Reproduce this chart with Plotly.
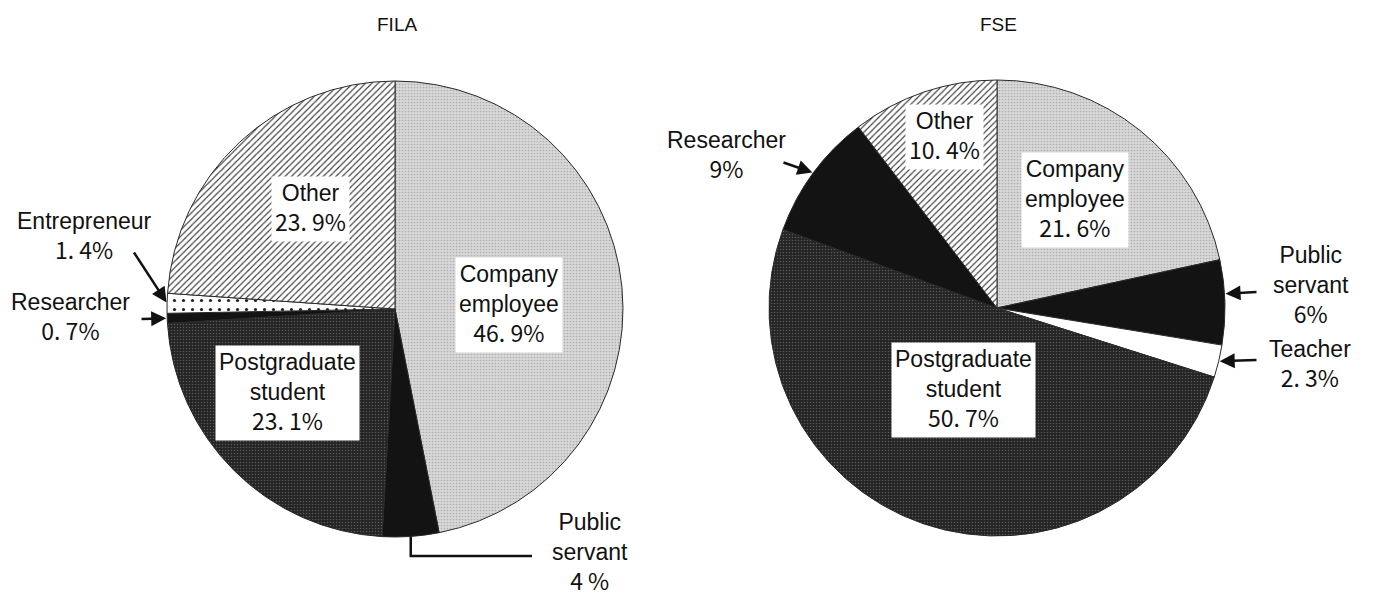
import math
import plotly.graph_objects as go

PAGE_W, PAGE_H = 1373, 596
OFF = 8  # default body margin of the html page
W, H = PAGE_W - 2 * OFF, PAGE_H - OFF

# ---------------- data ----------------
fila_labels = ["Company employee", "Public servant", "Postgraduate student",
               "Researcher", "Entrepreneur", "Other"]
fila_values = [46.9, 4.0, 23.1, 0.7, 1.4, 23.9]
fila_pct_text = ["46. 9%", "4 %", "23. 1%", "0. 7%", "1. 4%", "23. 9%"]

fse_labels = ["Company employee", "Public servant", "Teacher",
              "Postgraduate student", "Researcher", "Other"]
fse_values = [21.6, 6.0, 2.3, 50.7, 9.0, 10.4]
fse_pct_text = ["21. 6%", "6%", "2. 3%", "50. 7%", "9%", "10. 4%"]

# ---------------- styles ----------------
STYLE = {
    "Company employee":     dict(bg="#d8d8d8", fg="#b0b0b0", shape=".", size=3, sol=0.25),
    "Public servant":       dict(bg="#131313", fg="#131313", shape="", size=8, sol=0.3),
    "Postgraduate student": dict(bg="#242424", fg="#5a5a5a", shape=".", size=3, sol=0.2),
    "Researcher":           dict(bg="#131313", fg="#131313", shape="", size=8, sol=0.3),
    "Entrepreneur":         dict(bg="#ffffff", fg="#222222", shape=".", size=9, sol=0.1),
    "Other":                dict(bg="#ffffff", fg="#333333", shape="/", size=4.5, sol=0.25),
    "Teacher":              dict(bg="#ffffff", fg="#ffffff", shape="", size=8, sol=0.3),
}

LABEL_FONT = "Liberation Sans, Arial, sans-serif"
NUM_FONT = "Noto Sans CJK JP, sans-serif"
FS = 23

# pie geometry (page pixels)
PIES = {
    "FILA": dict(cx=395, cy=309, r=228),
    "FSE": dict(cx=997, cy=308, r=228),
}


def px(x, y):
    return (x - OFF) / W, 1 - (y - OFF) / H


def domain(p):
    x0, y1 = px(p["cx"] - p["r"], p["cy"] - p["r"])
    x1, y0 = px(p["cx"] + p["r"], p["cy"] + p["r"])
    return dict(x=[x0, x1], y=[y0, y1])


def slice_point(p, values, idx, t=0.5, rfrac=1.0):
    tot = sum(values)
    start = sum(values[:idx]) / tot
    frac = start + t * values[idx] / tot
    ang = math.radians(360 * frac)
    return (p["cx"] + rfrac * p["r"] * math.sin(ang),
            p["cy"] - rfrac * p["r"] * math.cos(ang))


def polar_point(p, deg, rfrac):
    a = math.radians(deg)
    return (p["cx"] + rfrac * p["r"] * math.sin(a),
            p["cy"] - rfrac * p["r"] * math.cos(a))


def num(s):
    return f"<span style='font-family:{NUM_FONT}'>{s}</span>"


fig = go.Figure()


def add_pie(name, labels, values):
    p = PIES[name]
    st = [STYLE[l] for l in labels]
    fig.add_trace(go.Pie(
        labels=labels, values=values, sort=False, direction="clockwise",
        rotation=0, textinfo="none", hoverinfo="label+percent",
        domain=domain(p), showlegend=False, name=name,
        marker=dict(
            colors=[s["bg"] for s in st],
            line=dict(color="#2a2a2a", width=1),
            pattern=dict(
                shape=[s["shape"] for s in st],
                bgcolor=[s["bg"] for s in st],
                fgcolor=[s["fg"] for s in st],
                size=[s["size"] for s in st],
                solidity=[s["sol"] for s in st],
            ),
        ),
    ))
    tx, ty = px(p["cx"] + 2, 25)
    fig.add_annotation(x=tx, y=ty, xref="paper", yref="paper", text=name,
                       xanchor="center", yanchor="middle",
                       showarrow=False, font=dict(family=LABEL_FONT, size=19, color="#111"))


add_pie("FILA", fila_labels, fila_values)
add_pie("FSE", fse_labels, fse_values)


def inside_label(pie, labels, pcts, name, deg, rfrac):
    p = PIES[pie]
    i = labels.index(name)
    x, y = polar_point(p, deg, rfrac)
    txt = "<br>".join(name.split(" ")) + "<br>" + num(pcts[i])
    xp, yp = px(x, y)
    fig.add_annotation(x=xp, y=yp, xref="paper", yref="paper", text=txt,
                       xanchor="center", yanchor="middle",
                       showarrow=False, bgcolor="white", borderpad=3,
                       font=dict(family=LABEL_FONT, size=FS, color="#111"))


def outside_label(labels, pcts, name, x, y, split=False):
    i = labels.index(name)
    nm = "<br>".join(name.split(" ")) if split else name
    txt = f"{nm}<br>{num(pcts[i])}"
    xp, yp = px(x, y)
    fig.add_annotation(x=xp, y=yp, xref="paper", yref="paper", text=txt,
                       xanchor="center", yanchor="middle",
                       showarrow=False, font=dict(family=LABEL_FONT, size=FS, color="#111"))


def arrow(pie, values, idx, tail, t=0.5):
    p = PIES[pie]
    tx, ty = slice_point(p, values, idx, t=t)
    xp, yp = px(tx, ty)
    fig.add_annotation(x=xp, y=yp, xref="paper", yref="paper", text="",
                       showarrow=True, arrowhead=2, arrowsize=1.2, arrowwidth=2.5,
                       arrowcolor="#111", standoff=1,
                       ax=tail[0] - tx, ay=tail[1] - ty)


# FILA inside labels
inside_label("FILA", fila_labels, fila_pct_text, "Company employee", 88, 0.50)
inside_label("FILA", fila_labels, fila_pct_text, "Other", 320, 0.575)
inside_label("FILA", fila_labels, fila_pct_text, "Postgraduate student", 232, 0.60)
# FILA outside labels
outside_label(fila_labels, fila_pct_text, "Entrepreneur", 84, 237)
arrow("FILA", fila_values, fila_labels.index("Entrepreneur"), (133, 251))
outside_label(fila_labels, fila_pct_text, "Researcher", 70, 318)
arrow("FILA", fila_values, fila_labels.index("Researcher"), (140, 319))
outside_label(fila_labels, fila_pct_text, "Public servant", 590, 553, split=True)
# leader line for FILA public servant
lx, ly = slice_point(PIES["FILA"], fila_values, fila_labels.index("Public servant"))
p0 = px(lx, ly)
p1 = px(lx, 556)
p2 = px(532, 556)
fig.add_shape(type="path", xref="paper", yref="paper",
              path=f"M {p0[0]},{p0[1]} L {p1[0]},{p1[1]} L {p2[0]},{p2[1]}",
              line=dict(color="#111", width=2.5))

# FSE inside labels
inside_label("FSE", fse_labels, fse_pct_text, "Other", 343, 0.785)
inside_label("FSE", fse_labels, fse_pct_text, "Company employee", 35.8, 0.585)
inside_label("FSE", fse_labels, fse_pct_text, "Postgraduate student", 202, 0.388)
# FSE outside labels
outside_label(fse_labels, fse_pct_text, "Researcher", 726, 156)
arrow("FSE", fse_values, fse_labels.index("Researcher"), (782, 162))
outside_label(fse_labels, fse_pct_text, "Public servant", 1311, 286, split=True)
arrow("FSE", fse_values, fse_labels.index("Public servant"), (1258, 292), t=0.4)
outside_label(fse_labels, fse_pct_text, "Teacher", 1310, 365)
arrow("FSE", fse_values, fse_labels.index("Teacher"), (1258, 360))

fig.update_layout(
    width=W, height=H,
    margin=dict(l=0, r=0, t=0, b=0),
    paper_bgcolor="white", plot_bgcolor="white",
)

fig.write_html("out.html")
